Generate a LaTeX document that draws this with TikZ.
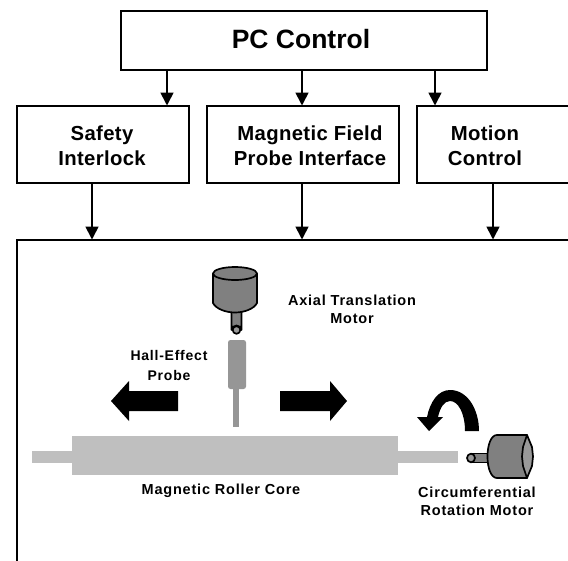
\documentclass[tikz,border=0pt]{standalone}
\usepackage{fontspec}
\setmainfont{Liberation Sans}
\newfontfamily\blockfont[LetterSpace=1.7]{Liberation Sans}
\newfontfamily\smallfont[LetterSpace=5.5]{Liberation Sans}
\usetikzlibrary{arrows.meta}
\definecolor{rollergray}{HTML}{BFBFBF}
\definecolor{probegray}{HTML}{969696}
\definecolor{motorgray}{HTML}{808080}
\definecolor{motorlight}{HTML}{999999}
\tikzset{
  blockbox/.style={draw=black,line width=2pt,fill=white,inner sep=0pt,anchor=north west},
  title/.style={font=\bfseries\fontsize{26.5}{30}\selectfont,inner sep=0pt},
  blocktext/.style={font=\blockfont\bfseries\fontsize{20.3}{25}\selectfont,align=center,inner sep=0pt},
  smalltext/.style={font=\smallfont\bfseries\fontsize{14.5}{18}\selectfont,align=center,inner sep=0pt},
  conn/.style={draw=black,line width=1.7pt,-{Triangle[length=13pt,width=13pt]},shorten >=-0.5pt},
  motorline/.style={draw=black,line width=1.7pt,line join=round},
  bigarrow/.style={fill=black,draw=none}
}
\begin{document}
\begin{tikzpicture}[x=1pt,y=-1pt]
\useasboundingbox (0,0) rectangle (568,560);
\clip (0,0) rectangle (568,560);
\fill[white] (0,0) rectangle (568,560);
% blocks
\node[blockbox,minimum width=366pt,minimum height=59pt] (pc) at (120.4,9.6) {};
\node[blockbox,minimum width=172pt,minimum height=77pt] (safety) at (16.4,104.6) {};
\node[blockbox,minimum width=192pt,minimum height=77pt] (probeif) at (206.4,104.6) {};
\node[blockbox,minimum width=180pt,minimum height=77pt] (motion) at (416.4,104.6) {};
\node[blockbox,minimum width=580pt,minimum height=340pt] (stage) at (16.4,238.6) {};
% block text
\node[title] (tpc) at (301,39) {PC Control};
\node[blocktext] (tsafety) at (102,146) {Safety\\Interlock};
\node[blocktext] (tprobeif) at (310,146) {Magnetic Field\\Probe Interface};
\node[blocktext] (tmotion) at (485,146) {Motion\\Control};
% connectors
\coordinate (a1) at (167,105);
\coordinate (a2) at (302,105);
\coordinate (a3) at (435,105);
\coordinate (b1) at (92,239);
\coordinate (b2) at (302,239);
\coordinate (b3) at (493,239);
\draw[conn] (a1 |- pc.south) -- (a1);
\draw[conn] (a2 |- pc.south) -- (a2);
\draw[conn] (a3 |- pc.south) -- (a3);
\draw[conn] (b1 |- safety.south) -- (b1);
\draw[conn] (b2 |- probeif.south) -- (b2);
\draw[conn] (b3 |- motion.south) -- (b3);
% roller
\fill[rollergray] (32,451) rectangle (458,463);
\fill[rollergray] (72,436) rectangle (398,475);
% probe
\fill[probegray] (233,385) rectangle (239,427);
\fill[probegray,rounded corners=2.5pt] (228,340) rectangle (246,389);
% axial motor
\draw[motorline,fill=motorgray] (231.5,308) -- (231.5,330) arc[start angle=180,end angle=360,x radius=5,y radius=4.5] -- (241.5,308) -- cycle;
\draw[motorline,fill=motorlight] (236.5,330) ellipse[x radius=3.8,y radius=3.8];
\draw[motorline,fill=motorgray] (213,273.5) -- (213,303) .. controls (216,309) and (226,312.5) .. (235,312.5) .. controls (244,312.5) and (254,309) .. (257,303) -- (257,273.5) -- cycle;
\draw[motorline,fill=motorgray] (235,273.5) ellipse[x radius=22,y radius=6.5];
% motion arrows
\fill[bigarrow] (178,391) -- (129,391) -- (129,381) -- (111,401) -- (129,421) -- (129,411) -- (178,411) -- cycle;
\fill[bigarrow] (280,391) -- (330,391) -- (330,381) -- (347,401) -- (330,421) -- (330,411) -- (280,411) -- cycle;
% rotation arrow
\fill[bigarrow] (479,431) .. controls (479,410) and (468,390) .. (450,390) .. controls (438,390) and (430,402) .. (427,417)
  -- (417,417) -- (429,431) -- (443,417) -- (438,417) .. controls (440,408) and (444,401) .. (450,401) .. controls (458,401) and (465,413) .. (465,431) -- cycle;
% rotation motor
\draw[motorline,fill=motorgray] (488,453.5) -- (471,453.5) -- (471,462.5) -- (488,462.5) -- cycle;
\draw[motorline,fill=motorlight] (471,458) ellipse[x radius=4,y radius=4.3];
\draw[motorline,fill=motorgray] (527,435) -- (497,435) .. controls (491,435) and (487.5,445) .. (487.5,456.5) .. controls (487.5,468) and (491,478) .. (497,478) -- (527,478) -- cycle;
\draw[motorline,fill=motorlight] (527,435) -- (532,447) -- (533,456.5) -- (532,466) -- (527,478) -- (523,466) -- (522,456.5) -- (523,447) -- cycle;
% labels
\node[smalltext] (laxial) at (352,309) {Axial Translation\\Motor};
\node[smalltext,font=\smallfont\bfseries\fontsize{14}{20}\selectfont] (lhall) at (169,365.5) {Hall-Effect\\Probe};
\node[smalltext] (lcore) at (221,491) {Magnetic Roller Core};
\node[smalltext] (lrot) at (477,501) {Circumferential\\Rotation Motor};
\end{tikzpicture}
\end{document}
